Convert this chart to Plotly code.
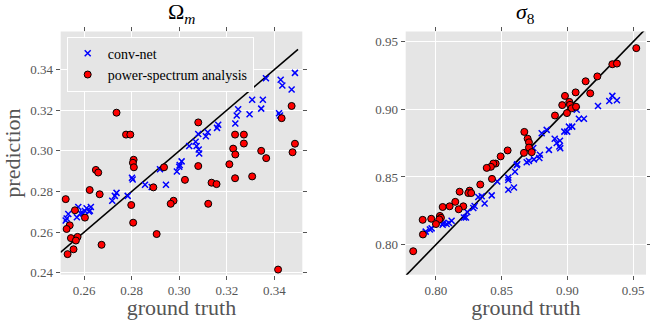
import plotly.graph_objects as go

# ---------------- data: Omega_m ----------------
om_cnn_true = [0.3365, 0.3487, 0.3427, 0.3434, 0.3473, 0.3307, 0.3352, 0.3345, 0.3248, 0.3242,
               0.3296, 0.3236, 0.3420, 0.3424, 0.3164, 0.3159, 0.3120, 0.3112, 0.3080, 0.3069,
               0.3073, 0.3042, 0.3082, 0.3084, 0.3010, 0.3002, 0.3000, 0.2990, 0.2919, 0.2801,
               0.2804, 0.2856, 0.2944, 0.2884, 0.2783, 0.2736, 0.2729, 0.2718, 0.2628, 0.2624,
               0.2610, 0.2603, 0.2575, 0.2569, 0.2595, 0.2533, 0.2526, 0.2522, 0.2620, 0.2585]
om_cnn_pred = [0.3358, 0.3384, 0.3350, 0.3322, 0.3302, 0.3252, 0.3252, 0.3208, 0.3205, 0.3174,
               0.3180, 0.3135, 0.3185, 0.3174, 0.3129, 0.3113, 0.3092, 0.3072, 0.3083, 0.3045,
               0.3024, 0.3024, 0.3007, 0.2987, 0.2948, 0.2930, 0.2922, 0.2898, 0.2909, 0.2867,
               0.2859, 0.2833, 0.2833, 0.2822, 0.2778, 0.2793, 0.2778, 0.2754, 0.2723, 0.2705,
               0.2717, 0.2704, 0.2723, 0.2673, 0.2692, 0.2689, 0.2667, 0.2657, 0.2701, 0.2692]

om_ps_true = [0.2736, 0.2776, 0.2794, 0.3080, 0.3235, 0.3272, 0.3272, 0.3227, 0.3236, 0.3345,
              0.3366, 0.3431, 0.3473, 0.3487, 0.3477, 0.2808, 0.2805, 0.2809, 0.3080, 0.3211,
              0.2936, 0.2649, 0.2659, 0.3235, 0.3307, 0.3024, 0.3136, 0.3157, 0.2623, 0.2665,
              0.2891, 0.2976, 0.2964, 0.3122, 0.2522, 0.2798, 0.2561, 0.2603, 0.2806, 0.2539,
              0.2526, 0.2544, 0.2572, 0.2565, 0.2555, 0.2530, 0.2673, 0.2905, 0.3416]
om_ps_pred = [0.3188, 0.3080, 0.3080, 0.3140, 0.3080, 0.3080, 0.3036, 0.3011, 0.2982, 0.3000,
              0.2964, 0.3161, 0.3221, 0.3035, 0.2993, 0.2956, 0.2941, 0.2919, 0.2925, 0.2934,
              0.2919, 0.2906, 0.2893, 0.2865, 0.2874, 0.2857, 0.2843, 0.2836, 0.2807, 0.2786,
              0.2820, 0.2754, 0.2739, 0.2739, 0.2762, 0.2733, 0.2707, 0.2671, 0.2646, 0.2633,
              0.2615, 0.2570, 0.2576, 0.2558, 0.2515, 0.2491, 0.2537, 0.2590, 0.2415]

# ---------------- data: sigma_8 ----------------
s8_cnn_true = [0.9341, 0.9376, 0.9318, 0.9232, 0.9070, 0.9087, 0.9125, 0.9011, 0.9036, 0.8976,
               0.8998, 0.8903, 0.8943, 0.8918, 0.8938, 0.8945, 0.8842, 0.8804, 0.8859, 0.8740,
               0.8791, 0.8786, 0.8745, 0.8707, 0.8690, 0.8618, 0.8614, 0.8601, 0.8550, 0.8550,
               0.8550, 0.8593, 0.8466, 0.8424, 0.8370, 0.8348, 0.8322, 0.8294, 0.8284, 0.8238,
               0.8228, 0.8213, 0.8119, 0.8099, 0.8081, 0.8056, 0.8051, 0.7967, 0.7954, 0.7922]
s8_cnn_pred = [0.9099, 0.9067, 0.9062, 0.9024, 0.8997, 0.8930, 0.8930, 0.8872, 0.8872, 0.8835,
               0.8835, 0.8783, 0.8768, 0.8751, 0.8725, 0.8712, 0.8848, 0.8823, 0.8700, 0.8714,
               0.8664, 0.8640, 0.8630, 0.8618, 0.8609, 0.8594, 0.8587, 0.8538, 0.8495, 0.8478,
               0.8406, 0.8422, 0.8466, 0.8364, 0.8304, 0.8357, 0.8352, 0.8285, 0.8270, 0.8241,
               0.8200, 0.8200, 0.8176, 0.8159, 0.8152, 0.8159, 0.8147, 0.8120, 0.8111, 0.8096]

s8_ps_true = [0.9523, 0.9341, 0.9376, 0.9227, 0.9138, 0.9173, 0.9062, 0.8981, 0.9014, 0.9019,
              0.8960, 0.9032, 0.9065, 0.8996, 0.8905, 0.8672, 0.8697, 0.8707, 0.8707, 0.8669,
              0.8728, 0.8545, 0.8492, 0.8454, 0.8436, 0.8418, 0.8386, 0.8426, 0.8337, 0.8256,
              0.8246, 0.8268, 0.8180, 0.8147, 0.8208, 0.8173, 0.8104, 0.8051, 0.8030, 0.8038,
              0.8025, 0.7964, 0.8000, 0.7899, 0.7901, 0.7827]
s8_ps_pred = [0.9452, 0.9333, 0.9338, 0.9243, 0.9207, 0.9118, 0.9125, 0.9099, 0.9055, 0.9033,
              0.9031, 0.9007, 0.9019, 0.8972, 0.8954, 0.8833, 0.8783, 0.8756, 0.8717, 0.8678,
              0.8683, 0.8696, 0.8652, 0.8599, 0.8599, 0.8575, 0.8567, 0.8486, 0.8444, 0.8399,
              0.8381, 0.8381, 0.8391, 0.8316, 0.8283, 0.8261, 0.8283, 0.8278, 0.8212, 0.8198,
              0.8186, 0.8191, 0.8152, 0.8183, 0.8075, 0.7951]

om_identity = [0.25, 0.35]
s8_identity = [0.77, 0.965]

om_ticks = [0.26, 0.28, 0.30, 0.32, 0.34]
om_yticks = [0.24, 0.26, 0.28, 0.30, 0.32, 0.34]
s8_ticks = [0.80, 0.85, 0.90, 0.95]

FONT = "Liberation Serif, Times New Roman, serif"
BG = "#e5e5e5"
TXT = "#555555"

fig = go.Figure()

# identity lines
fig.add_trace(go.Scatter(x=om_identity, y=om_identity, mode="lines",
                         line=dict(color="black", width=1.6), showlegend=False,
                         xaxis="x", yaxis="y", hoverinfo="skip"))
fig.add_trace(go.Scatter(x=s8_identity, y=s8_identity, mode="lines",
                         line=dict(color="black", width=1.6), showlegend=False,
                         xaxis="x2", yaxis="y2", hoverinfo="skip"))

cross = dict(symbol="x-thin", size=6, color="#0000ff", line=dict(color="#0000ff", width=1.5))
dot = dict(symbol="circle", size=7, color="#ff0000", line=dict(color="black", width=1))

fig.add_trace(go.Scatter(x=om_cnn_true, y=om_cnn_pred, mode="markers", marker=cross,
                         name="conv-net", xaxis="x", yaxis="y"))
fig.add_trace(go.Scatter(x=om_ps_true, y=om_ps_pred, mode="markers", marker=dot,
                         name="power-spectrum analysis", xaxis="x", yaxis="y"))
fig.add_trace(go.Scatter(x=s8_cnn_true, y=s8_cnn_pred, mode="markers", marker=cross,
                         showlegend=False, xaxis="x2", yaxis="y2"))
fig.add_trace(go.Scatter(x=s8_ps_true, y=s8_ps_pred, mode="markers", marker=dot,
                         showlegend=False, xaxis="x2", yaxis="y2"))

W, H = 650, 320
def fx(px):
    return px / W
def fy(py):
    return (H - py) / H

axis_common = dict(showgrid=True, gridcolor="white", gridwidth=1, zeroline=False,
                   ticks="outside", ticklen=4, tickcolor=TXT, tickwidth=1,
                   mirror="ticks", showline=False,
                   tickfont=dict(family=FONT, size=13, color=TXT))

fig.update_layout(
    width=W, height=H,
    margin=dict(l=0, r=0, t=0, b=0),
    paper_bgcolor="white", plot_bgcolor=BG,
    xaxis=dict(domain=[fx(60.7), fx(302.3)], range=[0.2501, 0.3518], tickvals=om_ticks,
               tickformat=".2f", anchor="y",
               title=dict(text="ground truth", font=dict(family=FONT, size=22, color=TXT), standoff=3),
               **axis_common),
    yaxis=dict(domain=[fy(279), fy(32)], range=[0.2390, 0.3588], tickvals=om_yticks,
               tickformat=".2f", anchor="x",
               title=dict(text="prediction", font=dict(family=FONT, size=22, color=TXT), standoff=3),
               **axis_common),
    xaxis2=dict(domain=[fx(405.7), fx(646)], range=[0.7770, 0.9597], tickvals=s8_ticks,
                tickformat=".2f", anchor="y2",
                title=dict(text="ground truth", font=dict(family=FONT, size=22, color=TXT), standoff=3),
                **axis_common),
    yaxis2=dict(domain=[fy(279), fy(32)], range=[0.7778, 0.9575], tickvals=s8_ticks,
                tickformat=".2f", anchor="x2", **axis_common),
    legend=dict(x=fx(66.7), y=fy(37.3), xanchor="left", yanchor="top",
                bgcolor=BG, bordercolor="white", borderwidth=1,
                font=dict(family=FONT, size=14, color="black"),
                tracegroupgap=0),
    annotations=[
        dict(text="Ω<sub><i>m</i></sub>", x=(fx(60.7) + fx(302.3)) / 2, y=fy(29), xref="paper", yref="paper",
             xanchor="center", yanchor="bottom", showarrow=False,
             font=dict(family=FONT, size=22, color="black")),
        dict(text="<i>σ</i><sub>8</sub>", x=(fx(405.7) + fx(646)) / 2, y=fy(29), xref="paper", yref="paper",
             xanchor="center", yanchor="bottom", showarrow=False,
             font=dict(family=FONT, size=22, color="black")),
    ],
)

# remove the default page margin so the figure fills the 650x320 window exactly
fig.write_html("out.html", config={"displayModeBar": False},
               post_script="document.body.style.margin='0px';")
